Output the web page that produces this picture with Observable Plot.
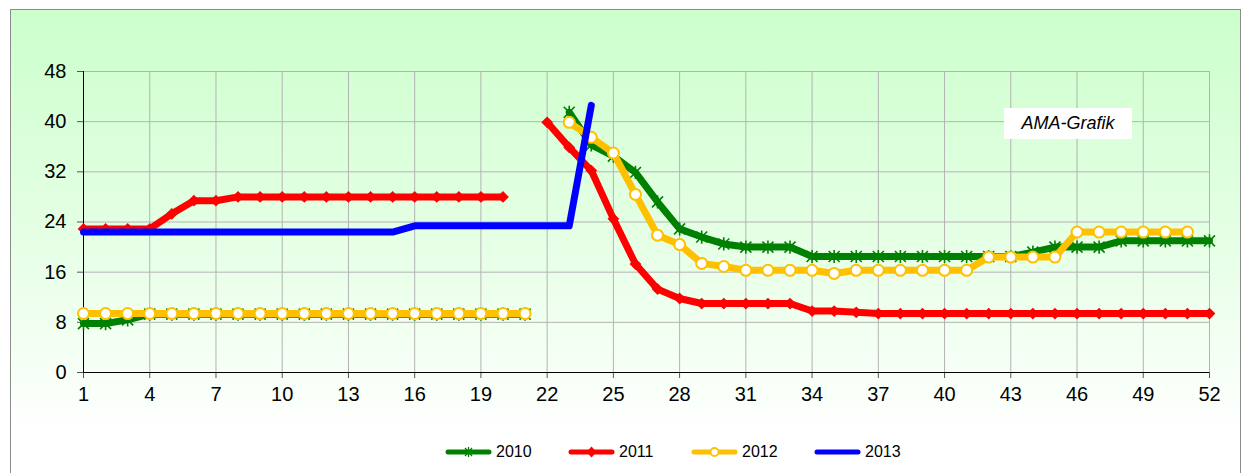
<!DOCTYPE html>
<html><head><meta charset="utf-8">
<script src="https://cdn.jsdelivr.net/npm/d3@7"></script>
<script src="https://cdn.jsdelivr.net/npm/@observablehq/plot@0.6"></script>
<style>
body{margin:0;background:#fff;font-family:"Liberation Sans",Arial,sans-serif;}
#wrap{position:relative;width:1244px;height:473px;overflow:hidden;}
#frame{position:absolute;left:10px;top:9px;width:1229px;height:470px;border:1px solid #8c8c8c;background:linear-gradient(to bottom,#ccffcc 0%,#e6ffe6 50%,#ffffff 90%);}
#chart{position:absolute;left:0;top:0;}
#badge{position:absolute;left:1004px;top:108px;width:128px;height:31px;background:#fff;font-style:italic;font-size:18px;line-height:31px;text-align:center;color:#000;}
#legend{position:absolute;top:441px;left:445px;height:22px;display:flex;}
.item{width:123px;display:flex;align-items:center;font-size:16px;color:#000;}
.item svg{margin-right:3px;}
</style></head><body>
<div id="wrap"><div id="frame"></div><div id="chart"></div><div id="badge">AMA-Grafik</div><div id="legend"></div></div>
<script>
const weeks = [1,2,3,4,5,6,7,8,9,10,11,12,13,14,15,16,17,18,19,20,21,22,23,24,25,26,27,28,29,30,31,32,33,34,35,36,37,38,39,40,41,42,43,44,45,46,47,48,49,50,51,52];
const xTicks = [1,4,7,10,13,16,19,22,25,28,31,34,37,40,43,46,49,52];
const yTicks = [0,8,16,24,32,40,48];
const years = ["2010","2011","2012","2013"];
const colors = ["#008000","#ff0000","#ffc000","#0000ff"];

const v2010 = [7.8,7.8,8.4,9.3,9.3,9.3,9.3,9.3,9.3,9.3,9.3,9.3,9.3,9.3,9.3,9.3,9.3,9.3,9.3,9.3,9.3,null,
  41.5,36.3,34.5,31.9,27.2,22.9,21.6,20.5,20.0,20.0,20.0,
  18.5,18.5,18.5,18.5,18.5,18.5,18.5,18.5,18.5,18.5,
  19.2,20.0,20.0,20.0,21.0,21.0,21.0,21.0,21.0];
const v2011 = [22.9,22.9,22.9,22.9,25.3,27.4,27.4,28,28,28,28,28,28,28,28,28,28,28,28,28,null,
  39.9,35.9,32.2,24.5,17.3,13.3,11.8,11.0,11.0,11.0,11.0,11.0,9.8,9.8,9.6,
  9.4,9.4,9.4,9.4,9.4,9.4,9.4,9.4,9.4,9.4,9.4,9.4,9.4,9.4,9.4,9.4];
const v2012 = [9.4,9.4,9.4,9.4,9.4,9.4,9.4,9.4,9.4,9.4,9.4,9.4,9.4,9.4,9.4,9.4,9.4,9.4,9.4,9.4,9.4,null,
  39.9,37.5,35.0,28.4,21.9,20.4,17.4,16.9,16.3,16.3,16.3,16.3,15.8,
  16.3,16.3,16.3,16.3,16.3,16.3,18.4,18.4,18.4,18.4,22.4,22.4,22.4,22.4,22.4,22.4,null];
const v2013 = [22.4,22.4,22.4,22.4,22.4,22.4,22.4,22.4,22.4,22.4,22.4,22.4,22.4,22.4,22.4,
  23.4,23.4,23.4,23.4,23.4,23.4,23.4,23.4,42.6,
  null,null,null,null,null,null,null,null,null,null,null,null,null,null,null,null,null,null,null,null,null,null,null,null,null,null,null,null];

const toRows = (vals) => weeks.map((w, i) => ({week: w, value: vals[i]}));
const d2010 = toRows(v2010), d2011 = toRows(v2011), d2012 = toRows(v2012), d2013 = toRows(v2013);

const star = {draw(ctx, size) {
  const r = Math.sqrt(size / Math.PI);
  ctx.moveTo(-r, -r); ctx.lineTo(r, r);
  ctx.moveTo(-r, r); ctx.lineTo(r, -r);
  ctx.moveTo(0, -r * 1.2); ctx.lineTo(0, r * 1.2);
}};

const lw = 7;
const chart = Plot.plot({
  width: 1244, height: 420,
  marginLeft: 83, marginRight: 35, marginTop: 71, marginBottom: 48,
  style: {background: "transparent", fontFamily: "'Liberation Sans', Arial, sans-serif", fontSize: "20px", color: "#000"},
  x: {domain: [1, 52]},
  y: {domain: [0, 48]},
  marks: [
    Plot.gridX(xTicks, {stroke: "#b3b3b3", strokeOpacity: 1}),
    Plot.gridY(yTicks, {stroke: "#b3b3b3", strokeOpacity: 1}),
    Plot.axisX({ticks: xTicks, tickSize: 6, tickPadding: 8, label: null, stroke: "#555"}),
    Plot.axisY({ticks: yTicks, tickSize: 6, tickPadding: 11, label: null, stroke: "#555"}),
    Plot.ruleX([1], {stroke: "#000"}),
    Plot.ruleY([0], {stroke: "#000"}),
    Plot.line(d2010, {x: "week", y: "value", stroke: colors[0], strokeWidth: lw, strokeLinejoin: "round", strokeLinecap: "round"}),
    Plot.dot(d2010, {x: "week", y: "value", symbol: star, r: 5.5, fill: "none", stroke: colors[0], strokeWidth: 1.6}),
    Plot.line(d2011, {x: "week", y: "value", stroke: colors[1], strokeWidth: lw, strokeLinejoin: "round", strokeLinecap: "round"}),
    Plot.dot(d2011, {x: "week", y: "value", symbol: "diamond2", r: 5.3, fill: colors[1], stroke: "none"}),
    Plot.line(d2012, {x: "week", y: "value", stroke: colors[2], strokeWidth: lw, strokeLinejoin: "round", strokeLinecap: "round"}),
    Plot.dot(d2012, {x: "week", y: "value", r: 5.5, fill: "#fff", stroke: colors[2], strokeWidth: 2}),
    Plot.line(d2013, {x: "week", y: "value", stroke: colors[3], strokeWidth: lw, strokeLinejoin: "round", strokeLinecap: "round"})
  ]
});
document.getElementById("chart").appendChild(chart);

// legend
const legend = d3.select("#legend");
years.forEach((yr, i) => {
  const item = legend.append("div").attr("class", "item");
  const svg = item.append("svg").attr("width", 48).attr("height", 22);
  svg.append("line").attr("x1", 3).attr("x2", 44).attr("y1", 11).attr("y2", 11)
    .attr("stroke", colors[i]).attr("stroke-width", 5).attr("stroke-linecap", "round");
  if (i === 0) {
    const g = svg.append("g").attr("stroke", colors[0]).attr("stroke-width", 1.3);
    g.append("path").attr("d", "M20,7L27,15M20,15L27,7M23.5,6L23.5,16");
  } else if (i === 1) {
    svg.append("path").attr("d", "M23.5,5.5L28.5,11L23.5,16.5L18.5,11Z").attr("fill", colors[1]);
  } else if (i === 2) {
    svg.append("circle").attr("cx", 23.5).attr("cy", 11).attr("r", 4).attr("fill", "#fff").attr("stroke", colors[2]).attr("stroke-width", 1.8);
  }
  item.append("span").text(yr);
});
</script>
</body></html>
